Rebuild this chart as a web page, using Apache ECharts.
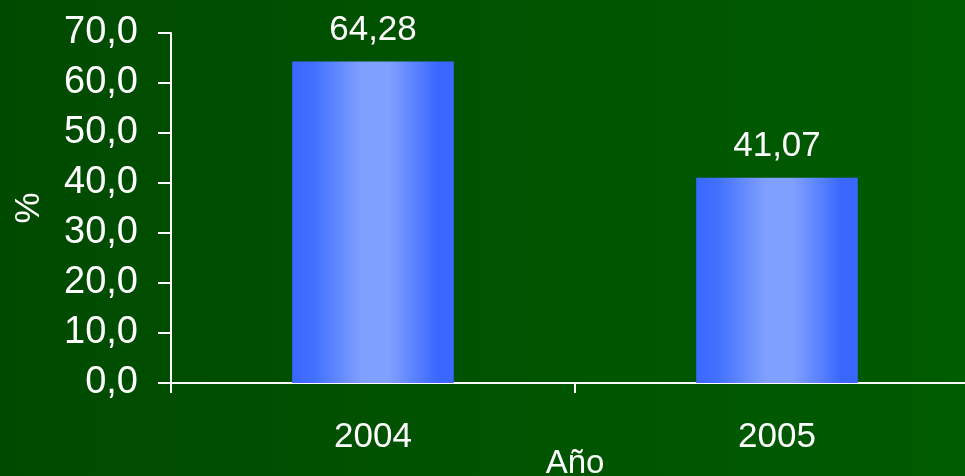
<!DOCTYPE html>
<html>
<head>
<meta charset="utf-8">
<script src="https://cdn.jsdelivr.net/npm/echarts@6/dist/echarts.min.js"></script>
<style>
html,body{margin:0;padding:0;width:965px;height:476px;overflow:hidden;}
#c{width:965px;height:476px;}
</style>
</head>
<body>
<div id="c"></div>
<script>
const categories = ['2004', '2005'];
const values = [64.28, 41.07];
const yTicks = [0, 10, 20, 30, 40, 50, 60, 70];

const chart = echarts.init(document.getElementById('c'));
const font = '"Liberation Sans", Arial, sans-serif';
chart.setOption({
  backgroundColor: new echarts.graphic.LinearGradient(0, 0, 1, 0, [
    {offset: 0, color: '#004a00'},
    {offset: 1, color: '#005c00'}
  ]),
  animation: false,
  grid: {left: 171, top: 33, width: 808, bottom: 93, containLabel: false, outerBoundsMode: 'none'},
  xAxis: {
    type: 'category',
    data: categories,
    name: 'Año',
    nameLocation: 'middle',
    nameGap: 64,
    nameMoveOverlap: false,
    nameTextStyle: {color: '#fff', fontSize: 33, fontFamily: font},
    axisLine: {lineStyle: {color: '#fff', width: 2}},
    axisTick: {show: true, length: 10, lineStyle: {color: '#fff', width: 2}},
    axisLabel: {color: '#fff', fontSize: 35, fontFamily: font, margin: 37}
  },
  yAxis: {
    type: 'value',
    min: yTicks[0],
    max: yTicks[yTicks.length - 1],
    interval: 10,
    name: '%',
    nameLocation: 'middle',
    nameGap: 124,
    nameRotate: 90,
    nameTextStyle: {color: '#fff', fontSize: 35, fontFamily: font},
    splitLine: {show: false},
    axisLine: {show: true, lineStyle: {color: '#fff', width: 2}},
    axisTick: {show: true, length: 13, lineStyle: {color: '#fff', width: 2}},
    axisLabel: {
      color: '#fff', fontSize: 38, fontFamily: font, margin: 33,
      formatter: v => v.toFixed(1).replace('.', ',')
    }
  },
  series: [{
    type: 'bar',
    data: values,
    barWidth: '40%',
    itemStyle: {
      color: new echarts.graphic.LinearGradient(0, 0, 1, 0, [
        {offset: 0, color: '#3a68ff'},
        {offset: 0.13, color: '#4170ff'},
        {offset: 0.43, color: '#80a0ff'},
        {offset: 0.6, color: '#80a0ff'},
        {offset: 0.9, color: '#3a68ff'},
        {offset: 1, color: '#3a68ff'}
      ])
    },
    label: {
      show: true,
      position: 'top',
      distance: 14,
      color: '#fff',
      fontSize: 35,
      fontFamily: font,
      formatter: p => p.value.toFixed(2).replace('.', ',')
    }
  }]
});
</script>
</body>
</html>
